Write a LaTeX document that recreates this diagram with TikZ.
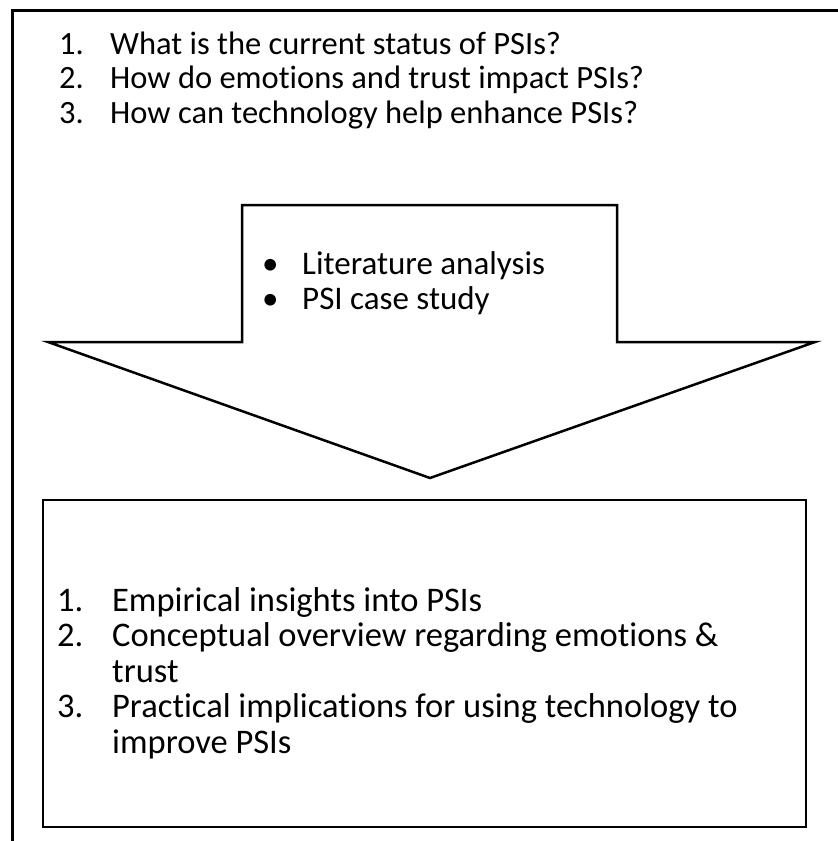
\documentclass[tikz,border=0pt]{standalone}
\usepackage{fontspec}
\setmainfont{Carlito}[Ligatures=NoCommon]
\usepackage{array}

\tikzset{
  frame/.style={line width=3bp},
  shapeline/.style={line width=2.5bp, line join=miter},
  listtext/.style={anchor=base west, inner sep=0pt, align=left}
}

\begin{document}
\begin{tikzpicture}[x=1bp,y=-1bp]
    \useasboundingbox (0,0) rectangle (838,841);
    % outer frame, only left and top edges
    \draw[frame] (12,841)--(12,10)--(838,10);
    % research questions
    \node[listtext](questions) at (59,54) {\fontsize{32.5bp}{34.5bp}\selectfont
      \begin{tabular}[t]{@{}p{51bp}@{}l@{}}
      1. & What is the current status of PSIs?\\
      2. & How do emotions and trust impact PSIs?\\
      3. & How can technology help enhance PSIs?
      \end{tabular}};
    % big down arrow
    \draw[shapeline] (242,205)--(617,205)--(617,342)--(815,342)--(430,478)--(48,342)--(242,342)--cycle;
    \node[listtext](methods) at (262,274) {\fontsize{33bp}{35bp}\selectfont
      \begin{tabular}[t]{@{}p{40bp}@{}l@{}}
      \textbullet & Literature analysis\\
      \textbullet & PSI case study
      \end{tabular}};
    % results box
    \draw[shapeline] (43,500) rectangle (806,827);
    \node[listtext](results) at (57,611) {\fontsize{34.5bp}{35.5bp}\selectfont
      \begin{tabular}[t]{@{}p{55bp}@{}l@{}}
      1. & Empirical insights into PSIs\\
      2. & Conceptual overview regarding emotions \&\\
         & trust\\
      3. & Practical implications for using technology to\\
         & improve PSIs
      \end{tabular}};
\end{tikzpicture}
\end{document}
